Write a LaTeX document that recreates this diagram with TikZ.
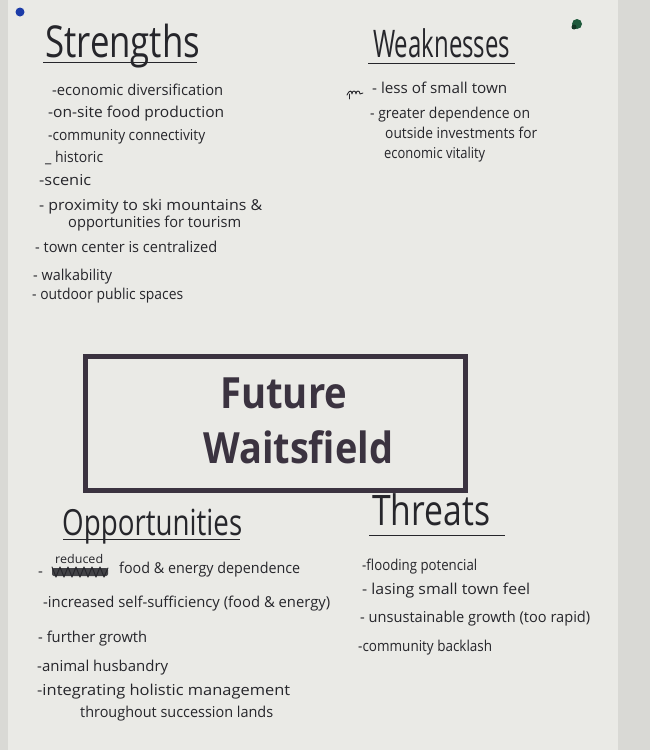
\documentclass[tikz,border=0pt]{standalone}
\usepackage{fontspec}
\setmainfont{Open Sans}
% stretch a line of writing to a given width, keeping its height
\newcommand{\fitto}[2]{\resizebox{#1pt}{\height}{#2}}
\begin{document}
\begin{tikzpicture}[x=1pt,y=-1pt]
\definecolor{wall}{HTML}{D9D9D5}
\definecolor{paper}{HTML}{EAEAE6}
\definecolor{ink}{HTML}{26262B}
\definecolor{boxink}{HTML}{3B3340}
\definecolor{pinblue}{HTML}{1C3CA8}
\definecolor{pingreen}{HTML}{1F5A3C}
\tikzset{
  item/.style={anchor=base west, inner sep=0pt, text=ink, font=\fontsize{15}{16}\selectfont},
  head/.style={anchor=base west, inner sep=0pt, text=ink},
  rule/.style={draw=ink, line width=1pt},
  title/.style={anchor=base west, inner sep=0pt, text=boxink, font=\bfseries\fontsize{43}{45}\selectfont},
  scribble/.style={draw=ink, line width=1.1pt, line cap=round, line join=round}
}
% wall and sheet
\useasboundingbox (0,0) rectangle (650,750);
\fill[wall] (0,0) rectangle (650,750);
\fill[paper] (8,0) rectangle (618,750);

% pins
\fill[pinblue] (20,12) circle (4.5);
\fill[pingreen] (577,24) circle (5);
\fill[pingreen!60!black] (574,27) circle (2.5);

% Strengths
\node[head, font=\fontsize{44}{46}\selectfont] (sh) at (45,57) {\fitto{155}{Strengths}};
\draw[rule] (43,62) -- (197,62);
\node[item] (s1) at (52,95) {\fitto{171}{-economic diversification}};
\node[item] (s2) at (48,117) {\fitto{176}{-on-site food production}};
\node[item] (s3) at (48,140) {\fitto{157}{-community connectivity}};
\node[item] (s4) at (45,162) {\fitto{58}{\_ historic}};
\node[item] (s5) at (39,185) {\fitto{52}{-scenic}};
\node[item] (s6) at (39,210) {\fitto{223}{- proximity to ski mountains \&}};
\node[item] (s7) at (68,227) {\fitto{173}{opportunities for tourism}};
\node[item] (s8) at (35,252) {\fitto{182}{- town center is centralized}};
\node[item] (s9) at (33,280) {\fitto{79}{- walkability}};
\node[item] (s10) at (32,299) {\fitto{151}{- outdoor public spaces}};

% Weaknesses
\node[head, font=\fontsize{38}{40}\selectfont] (wh) at (373,57) {\fitto{137}{Weaknesses}};
\draw[rule] (368,63) -- (515,63);
\draw[scribble, line width=0.9pt] (347,95) .. controls (349,90) and (352,90) .. (352,94)
  .. controls (352,90) and (356,90) .. (356,94) .. controls (356,90) and (360,90) .. (360,94)
  -- (363,93);
\draw[scribble, line width=0.9pt] (349,94) -- (349,99);
\node[item] (w1) at (372,93) {\fitto{135}{- less of small town}};
\node[item] (w2) at (370,118) {\fitto{160}{- greater dependence on}};
\node[item] (w3) at (385,138) {\fitto{152}{outside investments for}};
\node[item] (w4) at (384,158) {\fitto{101}{economic vitality}};

% centre box
\node[draw=boxink, line width=5pt, minimum width=380, minimum height=134, inner sep=0pt] (box) at (275,423) {};
\node[title] (t1) at (220,408) {\fitto{127}{Future}};
\node[title] (t2) at (203,463) {\fitto{190}{Waitsfield}};

% Opportunities
\node[head, font=\fontsize{36}{38}\selectfont] (oh) at (62,535) {\fitto{180}{Opportunities}};
\draw[rule] (63,539) -- (240,539);
\node[item, font=\fontsize{12}{12}\selectfont] (o0) at (55,563) {\fitto{48}{reduced}};
% crossed-out word under "reduced"
\fill[ink!85!paper, rounded corners=2pt] (52,568) rectangle (108,576);
\draw[scribble, line width=1pt, draw=ink] (52,567) -- (56,577) -- (60,567) -- (64,577) -- (68,567) -- (72,577)
  -- (76,567) -- (80,577) -- (84,567) -- (88,577) -- (92,567) -- (96,577) -- (100,567) -- (104,577) -- (108,568);
\node[item] (o1) at (38,576) {-};
\node[item] (o1b) at (119,573) {\fitto{181}{food \& energy dependence}};
\node[item] (o2) at (43,607) {\fitto{287}{-increased self-sufficiency (food \& energy)}};
\node[item] (o3) at (38,642) {\fitto{109}{- further growth}};
\node[item] (o4) at (37,671) {\fitto{131}{-animal husbandry}};
\node[item] (o5) at (37,695) {\fitto{253}{-integrating holistic management}};
\node[item] (o6) at (80,717) {\fitto{193}{throughout succession lands}};

% Threats
\node[head, font=\fontsize{42}{44}\selectfont] (th) at (372,525) {\fitto{118}{Threats}};
\draw[rule] (369,535) -- (505,535);
\node[item] (t1a) at (362,570) {\fitto{115}{-flooding potencial}};
\node[item] (t2a) at (362,594) {\fitto{168}{- lasing small town feel}};
\node[item] (t3a) at (360,622) {\fitto{230}{- unsustainable growth (too rapid)}};
\node[item] (t4a) at (358,651) {\fitto{134}{-community backlash}};
\end{tikzpicture}
\end{document}
